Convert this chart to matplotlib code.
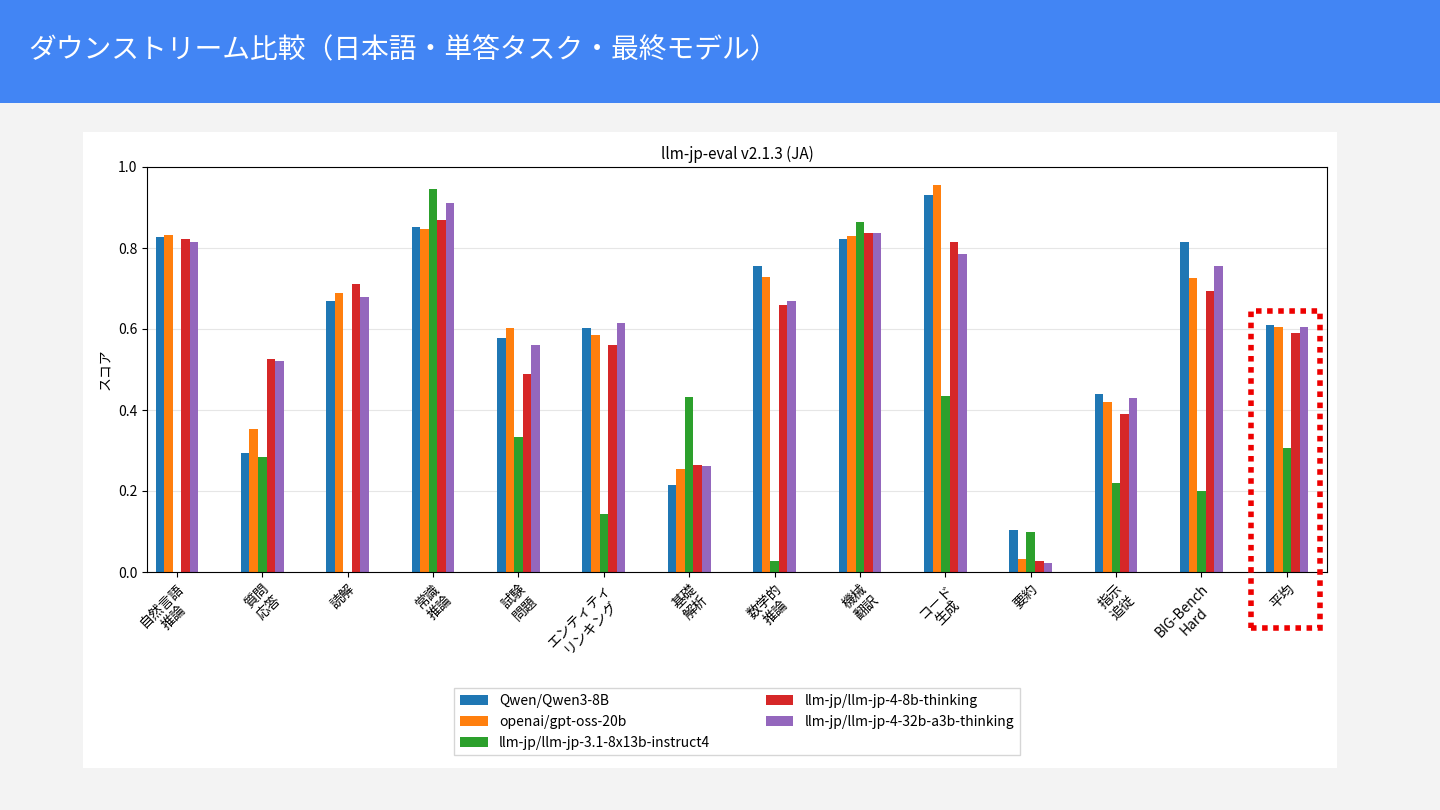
import matplotlib
matplotlib.use('Agg')
import matplotlib.pyplot as plt
import numpy as np
from matplotlib.patches import Rectangle

plt.rcParams['font.family'] = ['Noto Sans CJK JP', 'DejaVu Sans']

tasks = ['自然言語\n推論', '質問\n応答', '読解', '常識\n推論', '試験\n問題', 'エンティティ\nリンキング',
         '基礎\n解析', '数学的\n推論', '機械\n翻訳', 'コード\n生成', '要約', '指示\n追従', 'BIG-Bench\nHard', '平均']
models = ['Qwen/Qwen3-8B', 'openai/gpt-oss-20b', 'llm-jp/llm-jp-3.1-8x13b-instruct4',
          'llm-jp/llm-jp-4-8b-thinking', 'llm-jp/llm-jp-4-32b-a3b-thinking']
qwen = [0.828, 0.295, 0.670, 0.853, 0.577, 0.603, 0.215, 0.755, 0.823, 0.930, 0.103, 0.440, 0.815, 0.610]
gptoss = [0.831, 0.352, 0.690, 0.846, 0.603, 0.585, 0.255, 0.728, 0.830, 0.955, 0.031, 0.420, 0.725, 0.605]
llmjp31 = [0.0, 0.285, 0.0, 0.945, 0.333, 0.143, 0.433, 0.028, 0.865, 0.435, 0.099, 0.220, 0.200, 0.307]
llmjp4_8b = [0.823, 0.525, 0.710, 0.870, 0.490, 0.560, 0.265, 0.660, 0.838, 0.815, 0.026, 0.390, 0.695, 0.590]
llmjp4_32b = [0.815, 0.520, 0.680, 0.910, 0.560, 0.614, 0.262, 0.668, 0.838, 0.785, 0.023, 0.430, 0.755, 0.605]
series = [qwen, gptoss, llmjp31, llmjp4_8b, llmjp4_32b]
colors = ['#1f77b4', '#ff7f0e', '#2ca02c', '#d62728', '#9467bd']

fig = plt.figure(figsize=(14.4, 8.1), dpi=100)
fig.patch.set_facecolor('#f3f3f3')

# header bar
fig.patches.append(Rectangle((0, 1 - 103 / 810), 1, 103 / 810, transform=fig.transFigure,
                             facecolor='#4285f4', edgecolor='none', zorder=-2))
fig.text(28 / 1440, 1 - 50 / 810, 'ダウンストリーム比較（日本語・単答タスク・最終モデル）',
         color='white', fontsize=20, va='center', ha='left')
# white chart panel
fig.patches.append(Rectangle((83 / 1440, 1 - 768 / 810), 1254 / 1440, 636 / 810,
                             transform=fig.transFigure, facecolor='white', edgecolor='none', zorder=-2))

ax = fig.add_axes([147 / 1440, 1 - 572 / 810, 1180 / 1440, 405 / 810])
x = np.arange(len(tasks))
w = 0.1
for i, (vals, name, c) in enumerate(zip(series, models, colors)):
    ax.bar(x + (i - 2) * w, vals, w, color=c, label=name)

ax.set_ylim(0, 1.0)
ax.set_xlim(-0.35, 13.47)
ax.set_yticks(np.arange(0, 1.01, 0.2))
ax.set_yticklabels(['0.0', '0.2', '0.4', '0.6', '0.8', '1.0'], fontsize=10)
ax.yaxis.grid(True, color='#e6e6e6', linewidth=0.8)
ax.set_axisbelow(True)
ax.set_xticks(x)
ax.set_xticklabels(tasks, rotation=45, ha='right', rotation_mode='anchor',
                   multialignment='center', fontsize=10)
ax.set_ylabel('スコア', fontsize=10)
ax.set_title('llm-jp-eval v2.1.3 (JA)', fontsize=11)

ax.legend(loc='upper center', bbox_to_anchor=(0.5, -0.27), ncol=2, fontsize=10,
          frameon=True, fancybox=False, edgecolor='#cccccc', columnspacing=4)

# dotted highlight around average
fig.patches.append(Rectangle((1251 / 1440, 1 - 628 / 810), 69 / 1440, 317 / 810,
                             transform=fig.transFigure, facecolor='none', edgecolor='#ee0000',
                             linestyle=(0, (1, 1)), linewidth=4, zorder=5))

fig.savefig('out.png', dpi=100, facecolor=fig.get_facecolor())
